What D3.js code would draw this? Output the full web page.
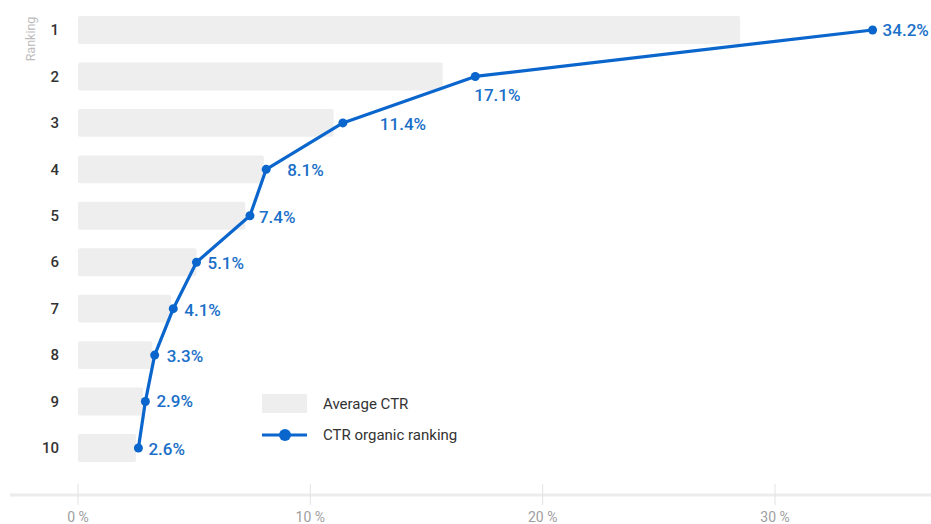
<!DOCTYPE html>
<html>
<head>
<meta charset="utf-8">
<script src="https://cdn.jsdelivr.net/npm/d3@7"></script>
<style>
  html, body { margin: 0; padding: 0; background: #fff; }
  svg { display: block; font-family: Roboto, "Noto Sans", sans-serif; }
</style>
</head>
<body>
<svg id="chart" width="931" height="524"></svg>
<script>
// Ranking positions on the vertical axis
const rankings = [1, 2, 3, 4, 5, 6, 7, 8, 9, 10];
// Average CTR per ranking (grey bars), in percent
const averageCtr = [28.5, 15.7, 11.0, 8.0, 7.2, 5.1, 4.0, 3.2, 2.8, 2.5];
// CTR for organic ranking (blue line), in percent
const organicCtr = [34.2, 17.1, 11.4, 8.1, 7.4, 5.1, 4.1, 3.3, 2.9, 2.6];
// Horizontal axis ticks
const xTicks = [0, 10, 20, 30];
const seriesNames = ["Average CTR", "CTR organic ranking"];

// Label nudges [dx, dy] so value labels sit clear of the line
const labelNudge = [[10, 0], [-1, 19], [37, 1], [21, 1], [9, 1], [11, 1], [11, 1], [12, 1], [11, 0], [10, 1]];

const svg = d3.select("#chart");
const W = 931;
const barColor = "#eeeeee";
const lineColor = "#0a66cc";
const labelColor = "#1a6fc8";

const x = d3.scaleLinear().domain([0, 30]).range([78, 775]);
const y = d3.scaleBand().domain(rankings).range([6.8, 471.2]).paddingInner(0.4).paddingOuter(0.2);

// Bars
svg.append("g").selectAll("rect")
  .data(rankings)
  .join("rect")
  .attr("x", x(0))
  .attr("y", (d) => y(d))
  .attr("width", (d, i) => x(averageCtr[i]) - x(0))
  .attr("height", y.bandwidth())
  .attr("rx", 2)
  .attr("fill", barColor);

// Y axis labels
svg.append("g").selectAll("text")
  .data(rankings)
  .join("text")
  .attr("x", 59)
  .attr("y", (d) => y(d) + y.bandwidth() / 2)
  .attr("dy", "0.35em")
  .attr("text-anchor", "end")
  .attr("font-size", 15)
  .attr("font-weight", 500)
  .attr("fill", "#333")
  .text((d) => d);

svg.append("text")
  .attr("transform", "translate(35,39) rotate(-90)")
  .attr("text-anchor", "middle")
  .attr("font-size", 12.5)
  .attr("fill", "#bdbdbd")
  .text("Ranking");

// X axis
const axisY = 495;
svg.append("line")
  .attr("x1", 10).attr("x2", W)
  .attr("y1", axisY).attr("y2", axisY)
  .attr("stroke", "#ececec").attr("stroke-width", 3);

const xg = svg.append("g").selectAll("g").data(xTicks).join("g");
xg.append("line")
  .attr("x1", (d) => x(d)).attr("x2", (d) => x(d))
  .attr("y1", 484).attr("y2", 505)
  .attr("stroke", "#e2e2e2").attr("stroke-width", 1);
xg.append("text")
  .attr("x", (d) => x(d))
  .attr("y", 522)
  .attr("text-anchor", "middle")
  .attr("font-size", 14)
  .attr("fill", "#9e9e9e")
  .text((d) => d + " %");

// Line series
const cy = (i) => y(rankings[i]) + y.bandwidth() / 2;
const line = d3.line().x((d) => x(d)).y((d, i) => cy(i));
svg.append("path")
  .datum(organicCtr)
  .attr("d", line)
  .attr("fill", "none")
  .attr("stroke", lineColor)
  .attr("stroke-width", 3.2)
  .attr("stroke-linejoin", "round");

svg.append("g").selectAll("circle")
  .data(organicCtr)
  .join("circle")
  .attr("cx", (d) => x(d))
  .attr("cy", (d, i) => cy(i))
  .attr("r", 4.5)
  .attr("fill", lineColor);

svg.append("g").selectAll("text")
  .data(organicCtr)
  .join("text")
  .attr("x", (d, i) => x(d) + labelNudge[i][0])
  .attr("y", (d, i) => cy(i) + labelNudge[i][1])
  .attr("dy", "0.35em")
  .attr("font-size", 17)
  .attr("font-weight", 500)
  .attr("fill", labelColor)
  .text((d) => d.toFixed(1) + "%");

// Legend
const lg = svg.append("g").attr("transform", "translate(262,0)");
lg.append("rect").attr("x", 0).attr("y", 394).attr("width", 45).attr("height", 19).attr("fill", barColor);
lg.append("text").attr("x", 61).attr("y", 404).attr("dy", "0.35em")
  .attr("font-size", 15).attr("fill", "#333").text(seriesNames[0]);
lg.append("line").attr("x1", 0).attr("x2", 45).attr("y1", 435).attr("y2", 435)
  .attr("stroke", lineColor).attr("stroke-width", 3);
lg.append("circle").attr("cx", 23).attr("cy", 435).attr("r", 6).attr("fill", lineColor);
lg.append("text").attr("x", 61).attr("y", 435).attr("dy", "0.35em")
  .attr("font-size", 15).attr("fill", "#333").text(seriesNames[1]);
</script>
</body>
</html>
